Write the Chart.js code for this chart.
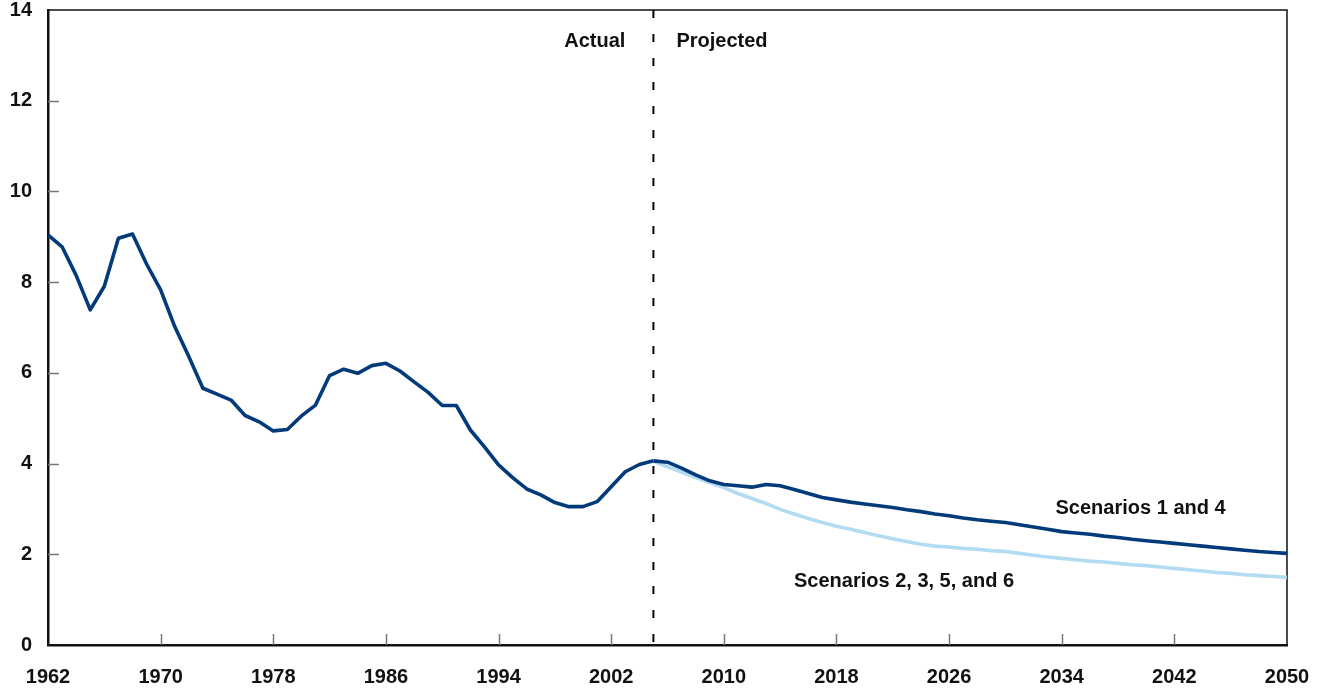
<!DOCTYPE html>
<html>
<head>
<meta charset="utf-8">
<script src="https://cdn.jsdelivr.net/npm/chart.js@4.4.1/dist/chart.umd.min.js"></script>
<style>
  html, body { margin: 0; padding: 0; background: #fff; }
  #wrap { width: 1325px; height: 692px; }
</style>
</head>
<body>
<div id="wrap"><canvas id="chart" width="1325" height="692"></canvas></div>
<script>
// actual values, 1962-2005
const actualYears = [];
for (let y = 1962; y <= 2005; y++) actualYears.push(y);
const actualValues = [
  9.04, 8.78, 8.15, 7.39, 7.91, 8.97, 9.06, 8.40, 7.83, 7.02,
  6.36, 5.66, 5.53, 5.40, 5.06, 4.92, 4.72, 4.75, 5.05, 5.29,
  5.94, 6.08, 5.99, 6.16, 6.21, 6.04, 5.80, 5.57, 5.28, 5.28,
  4.74, 4.37, 3.97, 3.69, 3.44, 3.31, 3.14, 3.05, 3.05, 3.16,
  3.49, 3.82, 3.98, 4.06
];

// projections, 2005-2050
const projYears = [];
for (let y = 2005; y <= 2050; y++) projYears.push(y);
const scen14 = [
  4.06, 4.03, 3.90, 3.75, 3.62, 3.54, 3.51, 3.48, 3.54, 3.51,
  3.43, 3.34, 3.25, 3.20, 3.15, 3.11, 3.07, 3.03, 2.98, 2.94,
  2.89, 2.85, 2.80, 2.76, 2.73, 2.70, 2.65, 2.60, 2.55, 2.50,
  2.47, 2.44, 2.40, 2.37, 2.33, 2.30, 2.27, 2.24, 2.21, 2.18,
  2.15, 2.12, 2.09, 2.06, 2.04, 2.02
];
const scen2356 = [
  4.05, 3.93, 3.81, 3.69, 3.58, 3.47, 3.34, 3.23, 3.12, 2.99,
  2.89, 2.79, 2.70, 2.62, 2.55, 2.48, 2.41, 2.34, 2.28, 2.22,
  2.18, 2.16, 2.13, 2.11, 2.08, 2.06, 2.02, 1.98, 1.94, 1.91,
  1.88, 1.85, 1.83, 1.80, 1.77, 1.75, 1.72, 1.69, 1.66, 1.63,
  1.60, 1.58, 1.55, 1.53, 1.51, 1.49
];

const yTicks = [0, 2, 4, 6, 8, 10, 12, 14];
const xTickStart = 1962, xTickEnd = 2050, xTickStep = 8;
const splitYear = 2005;

const DARK = '#033a7a';
const LIGHT = '#b3dcf3';
const FONT = '"Liberation Sans", Arial, sans-serif';

const pts = (xs, ys) => xs.map((x, i) => ({ x, y: ys[i] }));

// inner tick marks, top/right frame, dashed split line and text labels
const decor = {
  id: 'decor',
  beforeDatasetsDraw(chart) {
    const { ctx, chartArea: a, scales: { x, y } } = chart;
    ctx.save();
    ctx.strokeStyle = '#777';
    ctx.lineWidth = 1.5;
    yTicks.slice(1, -1).forEach(v => {
      const py = Math.round(y.getPixelForValue(v)) + 0.5;
      ctx.beginPath(); ctx.moveTo(a.left, py); ctx.lineTo(a.left + 11, py); ctx.stroke();
    });
    for (let v = xTickStart + xTickStep; v < xTickEnd; v += xTickStep) {
      const px = Math.round(x.getPixelForValue(v)) + 0.5;
      ctx.beginPath(); ctx.moveTo(px, a.bottom); ctx.lineTo(px, a.bottom - 11); ctx.stroke();
    }
    // top + right frame
    ctx.strokeStyle = '#111';
    ctx.lineWidth = 1.5;
    ctx.beginPath();
    ctx.moveTo(a.left, a.top); ctx.lineTo(a.right, a.top); ctx.lineTo(a.right, a.bottom);
    ctx.stroke();
    // split line
    const sx = x.getPixelForValue(splitYear);
    ctx.strokeStyle = '#000';
    ctx.lineWidth = 2;
    ctx.setLineDash([8, 16]);
    ctx.beginPath(); ctx.moveTo(sx, a.top); ctx.lineTo(sx, a.bottom); ctx.stroke();
    ctx.restore();
  },
  afterDatasetsDraw(chart) {
    const { ctx, scales: { x, y } } = chart;
    const sx = x.getPixelForValue(splitYear);
    ctx.save();
    ctx.fillStyle = '#111';
    ctx.font = 'bold 20px ' + FONT;
    ctx.textBaseline = 'middle';
    ctx.textAlign = 'right';
    ctx.fillText('Actual', sx - 28, y.getPixelForValue(13.3));
    ctx.textAlign = 'left';
    ctx.fillText('Projected', sx + 23, y.getPixelForValue(13.3));
    ctx.textAlign = 'center';
    ctx.fillText('Scenarios 1 and 4', x.getPixelForValue(2039.6), y.getPixelForValue(3.0));
    ctx.fillText('Scenarios 2, 3, 5, and 6', x.getPixelForValue(2022.8), y.getPixelForValue(1.41));
    ctx.restore();
  }
};

// invisible tick marks push the labels away from the axes
const hiddenGrid = len => ({
  display: true,
  drawOnChartArea: false,
  drawTicks: true,
  tickLength: len,
  color: 'rgba(0,0,0,0)'
});

new Chart(document.getElementById('chart'), {
  type: 'line',
  data: {
    datasets: [
      { label: 'Actual', data: pts(actualYears, actualValues), borderColor: DARK, borderWidth: 3.6 },
      { label: 'Scenarios 1 and 4', data: pts(projYears, scen14), borderColor: DARK, borderWidth: 3.6 },
      { label: 'Scenarios 2, 3, 5, and 6', data: pts(projYears, scen2356), borderColor: LIGHT, borderWidth: 3.6 }
    ]
  },
  options: {
    responsive: false,
    animation: false,
    devicePixelRatio: 1,
    layout: { padding: { top: 10, right: 38, left: 0, bottom: 0 } },
    elements: {
      point: { radius: 0 },
      line: { tension: 0, borderJoinStyle: 'round', borderCapStyle: 'butt' }
    },
    plugins: { legend: { display: false }, tooltip: { enabled: false } },
    scales: {
      x: {
        type: 'linear',
        min: xTickStart,
        max: xTickEnd,
        afterFit: s => { s.height = 47; },
        afterBuildTicks: s => {
          const t = [];
          for (let v = xTickStart; v <= xTickEnd; v += xTickStep) t.push({ value: v });
          s.ticks = t;
        },
        ticks: {
          autoSkip: false,
          maxRotation: 0,
          padding: 0,
          color: '#111',
          font: { family: FONT, size: 20, weight: 'bold', lineHeight: 1 },
          callback: v => String(v)
        },
        grid: hiddenGrid(22),
        border: { display: true, color: '#111', width: 2.5 }
      },
      y: {
        min: 0,
        max: 14,
        afterFit: s => { s.width = 48; },
        afterBuildTicks: s => { s.ticks = yTicks.map(v => ({ value: v })); },
        ticks: {
          padding: 0,
          color: '#111',
          font: { family: FONT, size: 20, weight: 'bold', lineHeight: 1 }
        },
        grid: hiddenGrid(16),
        border: { display: true, color: '#111', width: 2.5 }
      }
    }
  },
  plugins: [decor]
});
</script>
</body>
</html>
